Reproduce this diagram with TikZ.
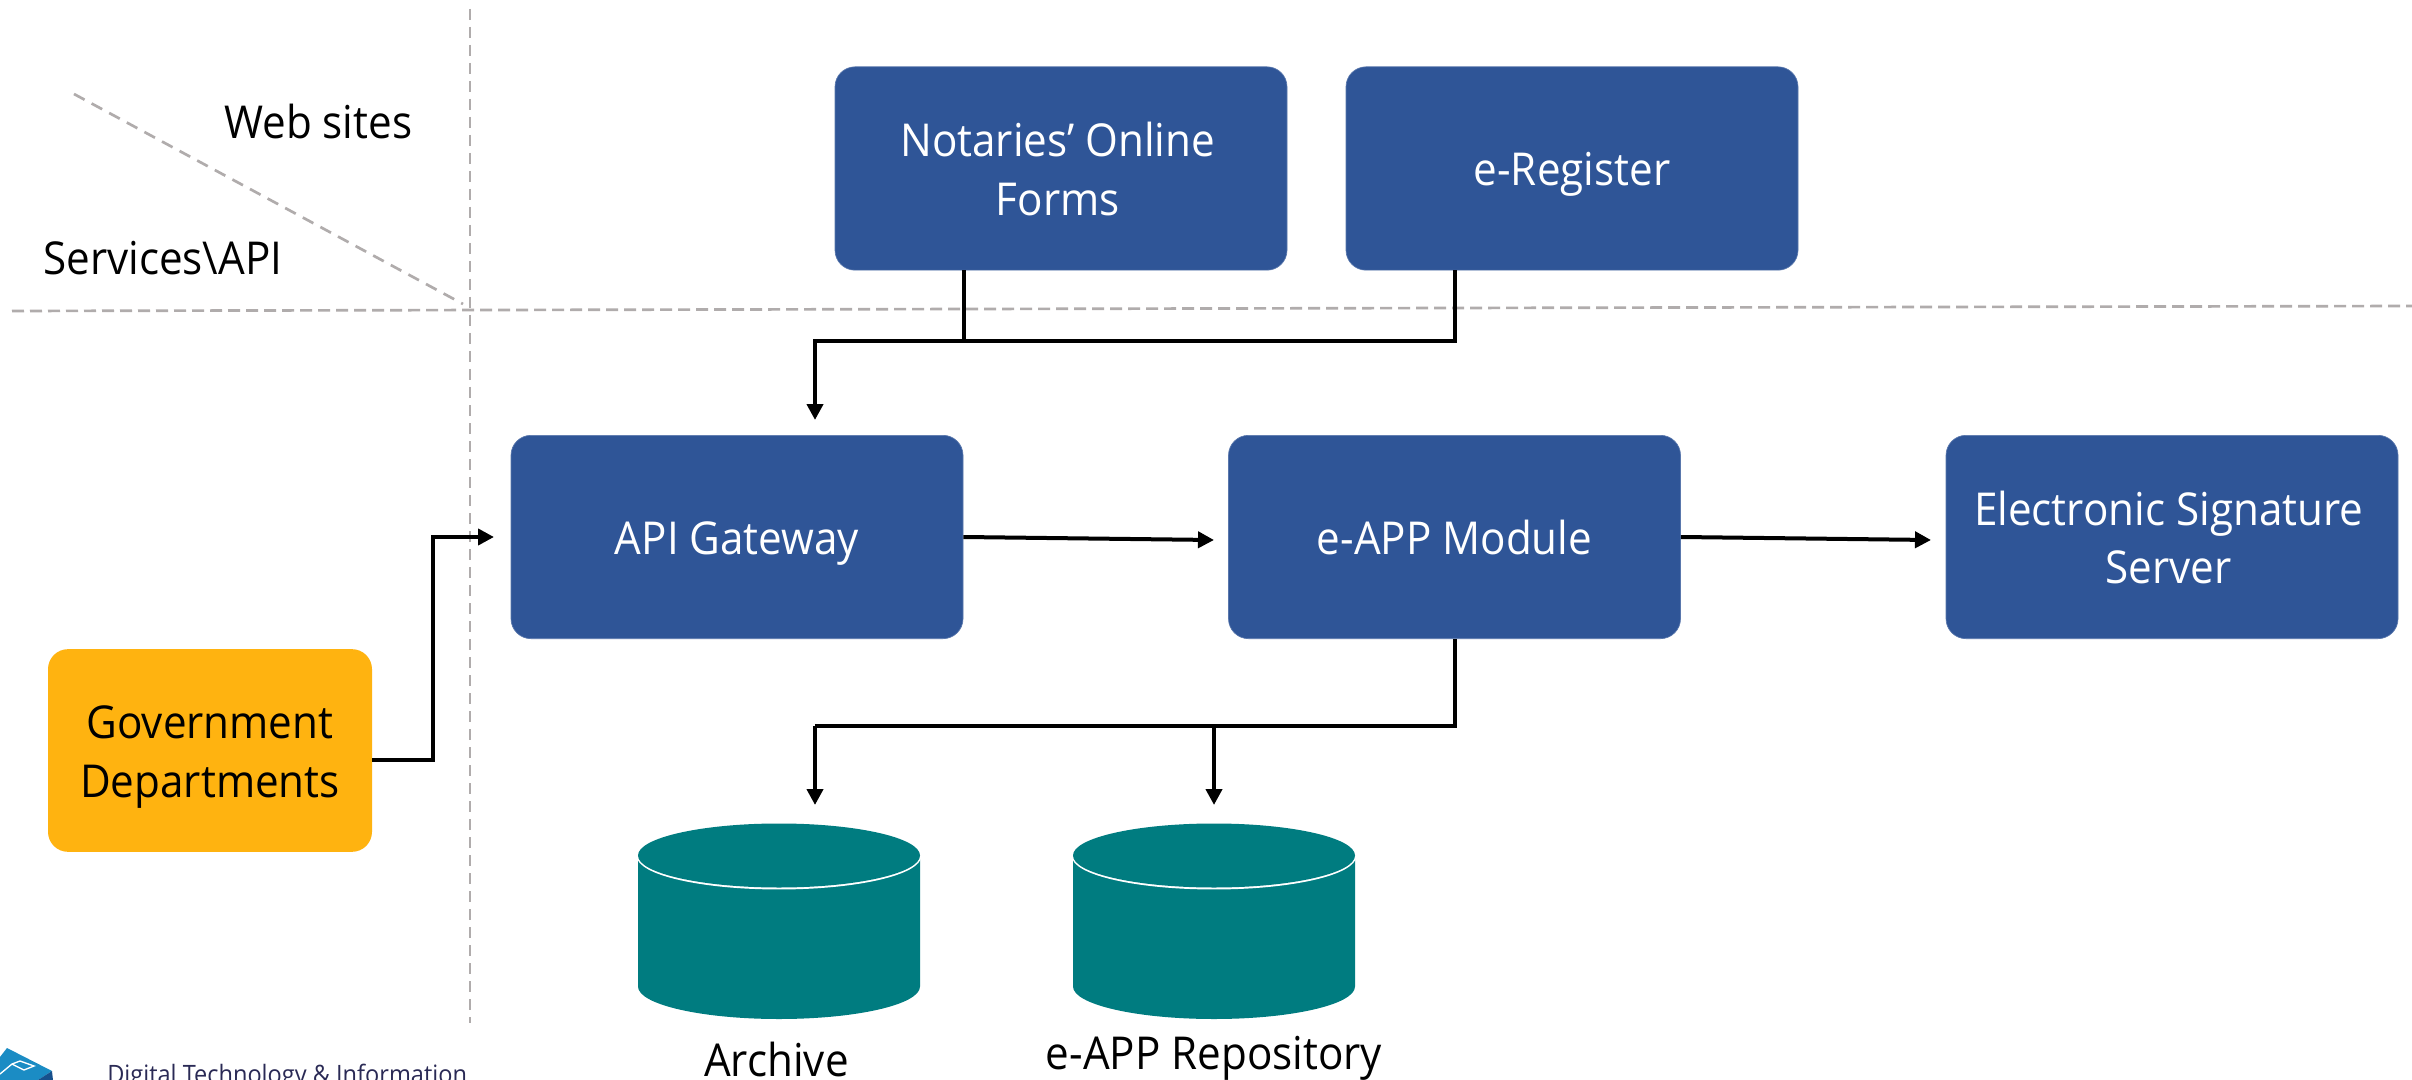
\documentclass[tikz,border=0pt]{standalone}
\usepackage{fontspec}
\setmainfont[FakeStretch=0.93]{Open Sans}
\definecolor{boxblue}{HTML}{2F5597}
\definecolor{gold}{HTML}{FFB310}
\definecolor{teal2}{HTML}{007C80}
\definecolor{dashgray}{HTML}{B0ACAC}
\definecolor{logoblue}{HTML}{1B8CC4}
\definecolor{logodark}{HTML}{17508C}
\definecolor{inktext}{HTML}{2A2A55}
\usetikzlibrary{arrows.meta}
\newcommand{\tp}{\rule{0pt}{34pt}}
\newcommand{\bt}{\rule[-8pt]{0pt}{8pt}}
\newcommand{\nudge}{\hspace*{5pt}}
\tikzset{
 x=0.75pt,y=-0.75pt,
 blue box/.style={draw=boxblue!80!white,line width=0.5pt,fill=boxblue,rounded corners=15pt,text=white,minimum width=339pt,minimum height=152.5pt,inner sep=0pt,align=center,font=\fontsize{34}{44}\selectfont},
 gold box/.style={fill=gold,rounded corners=15pt,text=black,minimum width=243pt,minimum height=152pt,inner sep=0pt,align=center,font=\fontsize{34}{44}\selectfont},
 plain label/.style={inner sep=0pt,text=black,font=\fontsize{34}{44}\selectfont},
 link/.style={draw=black,line width=3pt,-{Triangle[length=12pt,width=12pt]}},
 plainlink/.style={draw=black,line width=3pt},
 guide/.style={draw=dashgray,line width=2pt,dash pattern=on 9pt off 4.5pt},
 guidediag/.style={draw=dashgray,line width=2pt,dash pattern=on 9pt off 6pt},
 guidethin/.style={draw=dashgray,line width=1.7pt,dash pattern=on 8pt off 5.5pt},
}
\newcommand{\drum}[1]{%
 \fill[teal2] (#1-141,855.5) -- (#1-141,986.5) arc[x radius=141,y radius=32.5,start angle=180,end angle=0] -- (#1+141,855.5) -- cycle;
 \draw[white,line width=2.2pt] (#1-141,855.5) arc[x radius=141,y radius=32.5,start angle=180,end angle=0];
 \fill[teal2] (#1,855.5) ellipse[x radius=141,y radius=32];
}
\begin{document}
\begin{tikzpicture}
\useasboundingbox (0,0) rectangle (2412,1080);
\fill[white] (0,0) rectangle (2412,1080);
% guides
\coordinate (vt) at (470,9); \coordinate (vb) at (470,1023);
\coordinate (hl) at (12,311); \coordinate (hr) at (2412,306);
\coordinate (dt) at (74,94); \coordinate (db) at (463,304);
\draw[guidethin] (vt) -- (vb);
\draw[guide] (hl) -- (hr);
\draw[guidediag] (dt) -- (db);
% boxes
\node[blue box] (notaries) at (1061,168.5) {\tp Notaries’ Online\nudge\\Forms\nudge\bt};
\node[blue box] (eregister) at (1572,168.5) {\tp e-Register\bt};
\node[blue box] (gateway) at (737,537) {\tp API Gateway\bt};
\node[blue box] (module) at (1454.5,537) {\tp e-APP Module\bt};
\node[blue box] (signature) at (2172,537) {\tp Electronic Signature\nudge\\Server\nudge\bt};
\node[gold box] (gov) at (210,750.5) {\tp Government\\Departments\bt};
% cylinders
\drum{779}
\drum{1214}
\node[plain label,anchor=base] (archivelabel) at (776.5,1076) {Archive};
\node[plain label,anchor=base] (repolabel) at (1214,1069) {e-APP Repository};
\node[plain label,anchor=base west] (websites) at (224,139) {Web sites};
\node[plain label,anchor=base west] (services) at (43,275) {Services\textbackslash API};
% connector bends and ends
\coordinate (j1) at (815,341);
\coordinate (jg) at (815,420);
\coordinate (j2) at (815,726);
\coordinate (archivetop) at (815,805);
\coordinate (repotop) at (1214,805);
\draw[plainlink] (notaries.south -| 964,0) -- (964,341);
\draw[plainlink] (eregister.south -| 1455,0) -- (1455,341) -- (964,341);
\draw[link] (964,341) -- (j1) -- (jg);
\draw[link] (gateway.east) -- (1214,540);
\draw[link] (module.east) -- (1931,540);
\draw[link] (gov.east |- 0,760) -- (433,760) -- (433,537) -- (494,537);
\draw[plainlink] (module.south -| 1455,0) -- (1455,726) -- (j2);
\draw[link] (j2) -- (archivetop);
\draw[link] (1214,726) -- (repotop);
% logo fragment
\fill[logoblue] (0,1057) -- (7,1048) -- (52,1071) -- (38,1080) -- (0,1080) -- cycle;
\fill[logodark] (52,1071) -- (53,1080) -- (38,1080) -- cycle;
\draw[white,line width=1pt] (0,1074) -- (12,1064) -- (24,1070) -- (34,1066) -- (20,1061) -- (12,1064);
\node[anchor=base west,inner sep=0pt,text=inktext,font=\fontsize{19}{24}\selectfont] (dti) at (107,1083) {Digital Technology \& Information};
\end{tikzpicture}
\end{document}
